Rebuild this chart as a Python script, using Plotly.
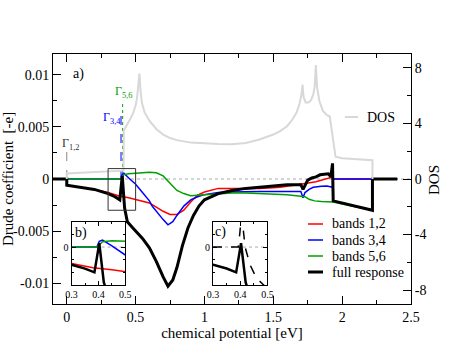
import plotly.graph_objects as go

# ---- data (x in eV, Drude coefficient in units of -e) ----
mu_red = [-0.1, 0, 0, 0.1, 0.2, 0.3, 0.38, 0.45, 0.5, 0.55, 0.6, 0.65, 0.7, 0.75, 0.8, 0.85,
          0.9, 0.95, 1.0, 1.1, 1.2, 1.3, 1.4, 1.5, 1.55, 1.65, 1.75, 1.81, 1.86, 1.9, 1.93, 1.935, 2.4]
d_red = [0, 0, -0.0006, -0.00082, -0.001, -0.0013, -0.00163, -0.0018, -0.00195, -0.0021, -0.0023,
         -0.0027, -0.0031, -0.0034, -0.0034, -0.003, -0.0022, -0.00155, -0.00125, -0.0009, -0.00092,
         -0.00092, -0.0009, -0.00085, -0.0008, -0.0006, -0.0004, -0.00026, -0.00008, 0.0001, 0.00018, 0, 0]

mu_blue = [-0.1, 0.394, 0.403, 0.415, 0.45, 0.5, 0.55, 0.6, 0.62, 0.65, 0.7, 0.735, 0.77, 0.8, 0.85,
           0.9, 0.95, 1.0, 1.1, 1.2, 1.3, 1.4, 1.5, 1.6, 1.7, 1.716, 1.73, 1.76, 1.79, 1.85, 1.89, 1.93, 1.935, 2.4]
d_blue = [0, 0, 0.00045, 0.00055, 0.0001, -0.0005, -0.0013, -0.0021, -0.0026, -0.0031, -0.0039,
          -0.0044, -0.0041, -0.0035, -0.0026, -0.002, -0.0017, -0.0015, -0.0013, -0.00125, -0.0012,
          -0.0012, -0.0012, -0.00118, -0.0012, -0.0018, -0.0013, -0.001, -0.0008, -0.0007, -0.00067,
          -0.0008, 0, 0]

mu_green = [-0.1, 0.394, 0.405, 0.415, 0.45, 0.5, 0.55, 0.6, 0.65, 0.7, 0.75, 0.8, 0.85, 0.9, 0.95,
            1.0, 1.1, 1.2, 1.3, 1.4, 1.5, 1.6, 1.7, 1.73, 1.76, 1.8, 1.85, 1.9, 1.935, 2.0, 2.1, 2.22, 2.22, 2.4]
d_green = [0, 0, 0.0002, 0.00042, 0.0005, 0.00055, 0.0006, 0.00065, 0.0006, 0.0003, -0.0004, -0.0011,
           -0.0014, -0.0016, -0.00155, -0.0015, -0.0014, -0.00135, -0.00135, -0.0014, -0.00145,
           -0.0015, -0.00165, -0.0017, -0.00195, -0.0021, -0.00215, -0.0022, -0.0022, -0.0024,
           -0.0027, -0.003, 0, 0]

mu_full = [-0.1, 0, 0, 0.1, 0.2, 0.3, 0.35, 0.385, 0.403, 0.42, 0.44, 0.48, 0.55, 0.6, 0.65, 0.7,
           0.735, 0.77, 0.8, 0.84, 0.88, 0.92, 0.96, 1.0, 1.1, 1.2, 1.3, 1.4, 1.5, 1.6, 1.7, 1.716,
           1.75, 1.78, 1.81, 1.84, 1.87, 1.9, 1.918, 1.93, 1.935, 2.0, 2.1, 2.22, 2.22, 2.4]
d_full = [0, 0, -0.0006, -0.0008, -0.001, -0.0014, -0.0017, -0.002, 0.0003, -0.0028, -0.0041, -0.0047,
          -0.0057, -0.0066, -0.0079, -0.0094, -0.0103, -0.0097, -0.0085, -0.0064, -0.0047, -0.0035,
          -0.0026, -0.002, -0.0014, -0.0011, -0.0009, -0.0008, -0.0007, -0.00055, -0.00055, -0.001,
          -0.0001, 0.0001, 0.0002, 0.0004, 0.00045, 0.0005, 0.0002, 0.0015, -0.0021, -0.0023, -0.0026,
          -0.003, 0, 0]

# full response with different broadening (inset c only)
mu_dash = [0.3, 0.393, 0.399, 0.406, 0.412, 0.418, 0.436, 0.454, 0.472, 0.49, 0.5]
d_dash = [0, 0, 0.0012, 0.0032, 0.0012, 0, -0.0014, -0.0022, -0.0027, -0.0031, -0.0033]

# density of states (right axis)
mu_dos = [0, 0, 0.1, 0.2, 0.3, 0.412, 0.414, 0.44, 0.46, 0.48, 0.5, 0.51, 0.52, 0.528, 0.535, 0.545,
          0.565, 0.6, 0.65, 0.7, 0.75, 0.8, 0.9, 1.0, 1.1, 1.2, 1.3, 1.4, 1.5, 1.55, 1.6, 1.64, 1.67,
          1.69, 1.705, 1.712, 1.72, 1.735, 1.755, 1.775, 1.79, 1.8, 1.809, 1.818, 1.835, 1.86, 1.89,
          1.91, 1.925, 1.952, 2.0, 2.1, 2.22, 2.22]
dos = [0, 0.4, 0.45, 0.5, 0.55, 0.6, 3.5, 3.9, 4.3, 4.7, 5.3, 5.8, 6.6, 7.6, 6.4, 5.5, 4.8, 4.2,
       3.6, 3.2, 2.95, 2.8, 2.62, 2.55, 2.52, 2.5, 2.6, 2.85, 3.2, 3.45, 3.8, 4.3, 4.8, 5.4, 6.1, 6.8,
       5.9, 5.5, 5.5, 5.7, 6.1, 6.6, 8.2, 6.6, 5.6, 4.9, 4.6, 4.5, 3.5, 1.6, 1.5, 1.42, 1.35, 0]

# band-edge markers
gam_x = [0.0, 0.394, 0.406]
gam_top = [0.0027, 0.0061, 0.0075]
gam_lbl = ["Γ<sub>1,2</sub>", "Γ<sub>3,4</sub>", "Γ<sub>5,6</sub>"]
gam_lbl_x = [0.028, 0.325, 0.41]
gam_lbl_y = [0.00335, 0.0059, 0.0084]

xticks = [0, 0.5, 1, 1.5, 2, 2.5]
xtick_txt = ["0", "0.5", "1", "1.5", "2", "2.5"]
yticks = [-0.01, -0.005, 0, 0.005, 0.01]
ytick_txt = ["-0.01", "-0.005", "0", "0.005", "0.01"]
y2ticks = [-8, -4, 0, 4, 8]
y2tick_txt = ["-8", "-4", "0", "4", "8"]

RED, BLUE, GREEN, GREY = "#ff0000", "#0000ff", "#00a000", "#d8d8d8"
FONT = "Liberation Serif"

fig = go.Figure()

# main panel
fig.add_trace(go.Scatter(x=[-0.1, 2.5], y=[0, 0], mode="lines",
                         line=dict(color="#aaaaaa", width=1, dash="dot"), xaxis="x", yaxis="y"))
fig.add_trace(go.Scatter(x=mu_dos, y=dos, mode="lines", line=dict(color=GREY, width=2),
                         xaxis="x", yaxis="y2"))
for gx, gt, col, dsh in zip(gam_x, gam_top, ["#888888", BLUE, GREEN], ["dash", "dash", "dot"]):
    fig.add_trace(go.Scatter(x=[gx, gx], y=[0, gt], mode="lines",
                             line=dict(color=col, width=1, dash=dsh), xaxis="x", yaxis="y"))
fig.add_trace(go.Scatter(x=mu_red, y=d_red, mode="lines", line=dict(color=RED, width=1.5)))
fig.add_trace(go.Scatter(x=mu_blue, y=d_blue, mode="lines", line=dict(color=BLUE, width=1.5)))
fig.add_trace(go.Scatter(x=mu_green, y=d_green, mode="lines", line=dict(color=GREEN, width=1.5)))
fig.add_trace(go.Scatter(x=mu_full, y=d_full, mode="lines", line=dict(color="black", width=3)))

# inset b
fig.add_trace(go.Scatter(x=[0.3, 0.5], y=[0, 0], mode="lines",
                         line=dict(color="#aaaaaa", width=1, dash="dot"), xaxis="x3", yaxis="y3"))
for xs, ys, col, w in [(mu_red, d_red, RED, 1.5), (mu_blue, d_blue, BLUE, 1.5),
                       (mu_green, d_green, GREEN, 1.5), (mu_full, d_full, "black", 2.5)]:
    fig.add_trace(go.Scatter(x=xs, y=ys, mode="lines", line=dict(color=col, width=w),
                             xaxis="x3", yaxis="y3"))

# inset c
fig.add_trace(go.Scatter(x=[0.3, 0.5], y=[0, 0], mode="lines",
                         line=dict(color="#aaaaaa", width=1, dash="dot"), xaxis="x4", yaxis="y4"))
fig.add_trace(go.Scatter(x=mu_dash, y=d_dash, mode="lines", line=dict(color="black", width=1.5, dash="dash"),
                         xaxis="x4", yaxis="y4"))
fig.add_trace(go.Scatter(x=mu_full, y=d_full, mode="lines", line=dict(color="black", width=2.5),
                         xaxis="x4", yaxis="y4"))

ax = dict(showline=True, linecolor="black", linewidth=1, showgrid=False, zeroline=False,
          automargin=False, ticks="inside", tickcolor="black",
          tickfont=dict(family=FONT, size=14, color="black"))
small = dict(family=FONT, size=10, color="black")

fig.update_layout(
    width=463, height=358, showlegend=False, hovermode=False,
    margin=dict(l=53, r=52, t=54, b=54),
    paper_bgcolor="white", plot_bgcolor="white",
    font=dict(family=FONT, color="black"),
    xaxis=dict(ax, range=[-0.1, 2.5], tickvals=xticks, ticktext=xtick_txt, ticklen=8, mirror="ticks",
               minor=dict(dtick=0.25, tick0=0, ticklen=4, ticks="inside"),
               title=dict(text="chemical potential [eV]", font=dict(family=FONT, size=15), standoff=2)),
    yaxis=dict(ax, range=[-0.012, 0.012], tickvals=yticks, ticktext=ytick_txt, ticklen=8,
               minor=dict(dtick=0.0025, tick0=0, ticklen=4, ticks="inside")),
    yaxis2=dict(ax, range=[-9, 9], overlaying="y", side="right", anchor="x", tickvals=y2ticks,
                ticktext=y2tick_txt, ticklen=8,
                minor=dict(dtick=2, tick0=0, ticklen=4, ticks="inside")),
    xaxis3=dict(ax, domain=[0.052, 0.202], anchor="y3", range=[0.3, 0.5], tickvals=[0.3, 0.4, 0.5],
                ticktext=["0.3", "0.4", "0.5"], ticklen=4, mirror="ticks",
                minor=dict(dtick=0.05, tick0=0, ticklen=2, ticks="inside"), tickfont=small),
    yaxis3=dict(ax, domain=[0.076, 0.329], anchor="x3", range=[-0.003, 0.002], tickvals=[0],
                ticktext=["0"], ticklen=4, mirror="ticks",
                minor=dict(dtick=0.001, tick0=0, ticklen=2, ticks="inside"), tickfont=small),
    xaxis4=dict(ax, domain=[0.447, 0.599], anchor="y4", range=[0.3, 0.5], tickvals=[0.3, 0.4, 0.5],
                ticktext=["0.3", "0.4", "0.5"], ticklen=4, mirror="ticks",
                minor=dict(dtick=0.05, tick0=0, ticklen=2, ticks="inside"), tickfont=small),
    yaxis4=dict(ax, domain=[0.076, 0.329], anchor="x4", range=[-0.003, 0.002], tickvals=[0],
                ticktext=["0"], ticklen=4, mirror="ticks",
                minor=dict(dtick=0.001, tick0=0, ticklen=2, ticks="inside"), tickfont=small),
)

# zoom box in main panel
fig.add_shape(type="rect", xref="x", yref="y", x0=0.3, x1=0.5, y0=-0.003, y1=0.001,
              line=dict(color="#333333", width=1))


def px(x, y):
    # window pixel -> paper coordinates of the main plot area (53..411, 54..304)
    return (x - 53) / 358, (304 - y) / 250


def label(t, x, y, size=14, angle=0, xanchor="center", color="black"):
    xp, yp = px(x, y)
    return dict(text=t, x=xp, y=yp, xref="paper", yref="paper", showarrow=False,
                xanchor=xanchor, yanchor="middle", textangle=angle,
                font=dict(size=size, family=FONT, color=color))


ann = [label("a)", 78, 74), label("b)", 81, 233), label("c)", 220, 232),
       label("Drude coefficient  [-e]", 8, 179, size=15, angle=-90),
       label("DOS", 434, 180, size=15, angle=-90)]
for t, lx, ly, col in zip(gam_lbl, gam_lbl_x, gam_lbl_y, ["#333333", BLUE, GREEN]):
    ann.append(dict(text=t, x=lx, y=ly, xref="x", yref="y", showarrow=False,
                    xanchor="center", yanchor="middle",
                    font=dict(size=12, family=FONT, color=col)))

# legends
leg = [("bands 1,2", RED, 1.5, 224), ("bands 3,4", BLUE, 1.5, 240),
       ("bands 5,6", GREEN, 1.5, 256), ("full response", "black", 3, 272)]
for t, col, w, y in leg:
    x0, yp = px(308, y)
    x1, _ = px(323, y)
    fig.add_shape(type="line", xref="paper", yref="paper", x0=x0, x1=x1, y0=yp, y1=yp,
                  line=dict(color=col, width=w))
    ann.append(label(t, 330, y, xanchor="left"))
x0, yp = px(345, 117)
x1, _ = px(358, 117)
fig.add_shape(type="line", xref="paper", yref="paper", x0=x0, x1=x1, y0=yp, y1=yp,
              line=dict(color=GREY, width=2))
ann.append(label("DOS", 365, 117, xanchor="left"))
fig.update_layout(annotations=ann)

# drop the default 8px body margin so the figure fills the window exactly
fig.write_html("out.html", config={"displayModeBar": False},
               post_script="document.body.style.margin='0';")
